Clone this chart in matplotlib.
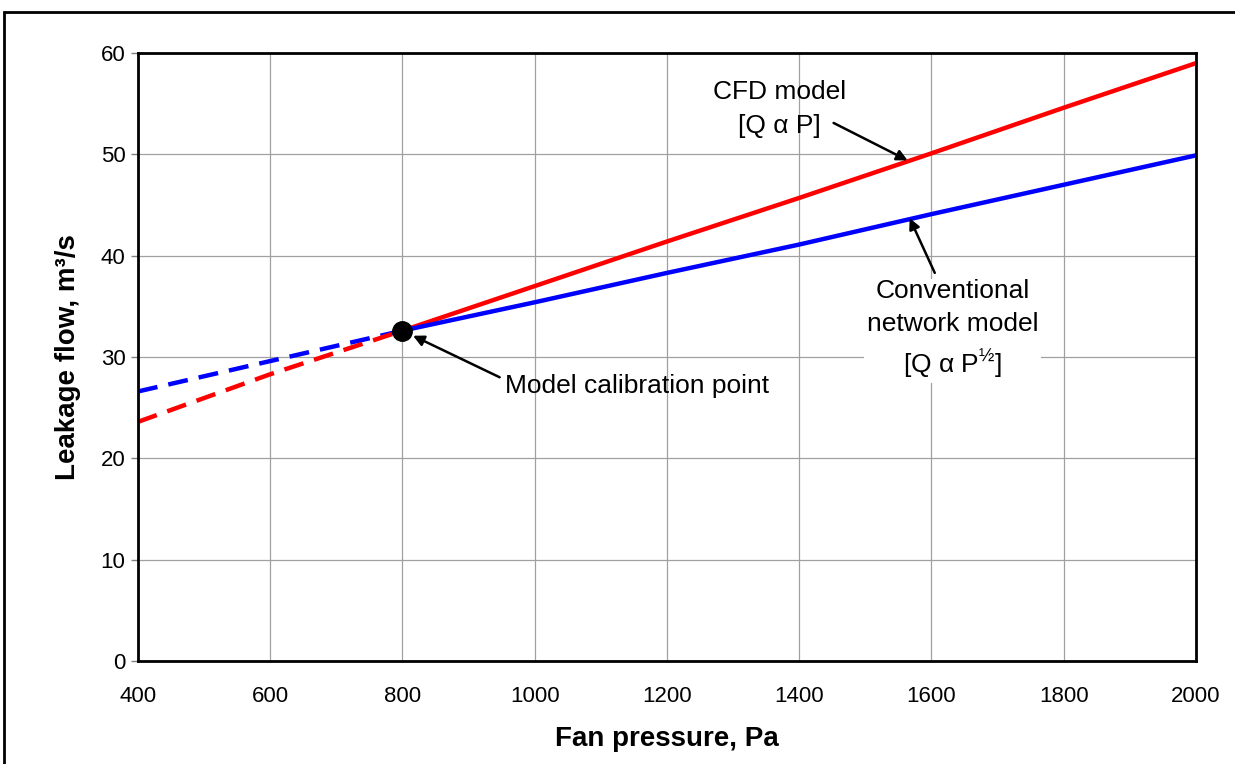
import matplotlib.pyplot as plt
from matplotlib.patches import Rectangle

plt.rcParams['font.family'] = ['Liberation Sans', 'DejaVu Sans']
plt.rcParams['mathtext.fontset'] = 'custom'
plt.rcParams['mathtext.rm'] = 'Liberation Sans'

# data
pressure = [400, 600, 800, 1000, 1200, 1400, 1600, 1800, 2000]
cfd_flow = [23.6, 28.3, 32.6, 37.0, 41.4, 45.7, 50.1, 54.6, 59.0]
network_flow = [26.6, 29.6, 32.6, 35.4, 38.3, 41.1, 44.1, 47.0, 49.9]
calib_p, calib_q = 800, 32.6
split = pressure.index(calib_p)

fig = plt.figure(figsize=(12.35, 7.64), dpi=100)
ax = fig.add_axes([0.1117, 0.1348, 0.8567, 0.7958])

# outer frame (runs off the right and bottom of the picture)
fig.patches.append(Rectangle((4 / 1235, -0.2), 1.2, 1.2 - 12 / 764, transform=fig.transFigure,
                             fill=False, edgecolor='black', linewidth=2, clip_on=False))

# dashed below calibration point, solid above
ax.plot(pressure[:split + 1], network_flow[:split + 1], color='blue', lw=3.2, ls=(0, (4.5, 2.5)))
ax.plot(pressure[:split + 1], cfd_flow[:split + 1], color='red', lw=3.2, ls=(0, (4.5, 2.5)))
ax.plot(pressure[split:], cfd_flow[split:], color='red', lw=3.2)
ax.plot(pressure[split:], network_flow[split:], color='blue', lw=3.2)
ax.plot(calib_p, calib_q, 'o', color='black', ms=14, zorder=5)

ax.set_xlim(400, 2000)
ax.set_ylim(0, 60)
ax.set_xticks(range(400, 2001, 200))
ax.set_yticks(range(0, 61, 10))
ax.grid(True, color='#a0a0a0', lw=0.9)
ax.set_axisbelow(True)
for s in ax.spines.values():
    s.set_linewidth(2)
ax.tick_params(axis='x', length=0, pad=18, labelsize=16)
ax.tick_params(axis='y', length=5, width=1, color='#808080', labelsize=16, pad=4)

ax.set_xlabel('Fan pressure, Pa', fontsize=20, fontweight='bold', labelpad=14)
ax.set_ylabel('Leakage flow, m³/s', fontsize=20, fontweight='bold', labelpad=14)

# labels
ax.text(955, 27.1, 'Model calibration point', fontsize=19, ha='left', va='center')
ax.text(1370, 54.5, 'CFD model\n[Q α P]', fontsize=19, ha='center', va='center', linespacing=1.5)
ax.text(1632, 32.7, 'Conventional\nnetwork model\n[Q α P$^{½}$]', fontsize=19, ha='center',
        va='center', linespacing=1.45, bbox=dict(facecolor='white', edgecolor='none', pad=2))

# arrows
arrow = dict(arrowstyle='-|>', color='black', lw=1.8, mutation_scale=16, shrinkA=0, shrinkB=0)
ax.annotate('', xy=(816, 32.1), xytext=(947, 28.0), arrowprops=arrow)
ax.annotate('', xy=(1564, 49.4), xytext=(1452, 53.1), arrowprops=arrow)
ax.annotate('', xy=(1567, 43.7), xytext=(1605, 38.3), arrowprops=arrow)

plt.savefig('out.png', dpi=100)
